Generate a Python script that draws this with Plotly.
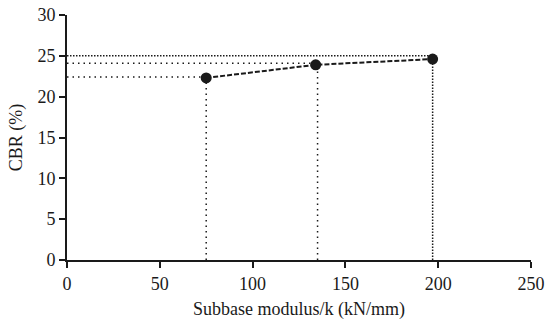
import plotly.graph_objects as go

# Data
modulus = [75, 134, 197]          # Subbase modulus/k (kN/mm)
cbr = [22.3, 23.9, 24.6]          # CBR (%)
guide_levels = [22.4, 24.1, 25.0]  # horizontal read-off lines
guide_x = [75, 135, 197]           # vertical read-off lines
x_ticks = [0, 50, 100, 150, 200, 250]
y_ticks = [0, 5, 10, 15, 20, 25, 30]

ink = "#1a1a1a"
sparse = "1.5px,4px"
dense = "1.5px,1.5px"
fig = go.Figure()

# horizontal dotted guides
for i, (gx, gy) in enumerate(zip(guide_x, guide_levels)):
    fig.add_trace(go.Scatter(x=[0, gx], y=[gy, gy], mode="lines",
                             line=dict(color=ink, width=1.5, dash=dense if i == 2 else sparse),
                             hoverinfo="skip", showlegend=False))
# vertical dotted guides
for i, (gx, my) in enumerate(zip(guide_x, cbr)):
    fig.add_trace(go.Scatter(x=[gx, gx], y=[0, my], mode="lines",
                             line=dict(color=ink, width=1.5, dash=dense if i == 2 else sparse),
                             hoverinfo="skip", showlegend=False))

fig.add_trace(go.Scatter(x=modulus, y=cbr, mode="lines+markers",
                         line=dict(color=ink, width=2, dash="5px,2px"),
                         marker=dict(color=ink, size=11),
                         showlegend=False))

font = dict(family="Liberation Serif, Times New Roman, serif", size=18, color=ink)

fig.update_layout(
    width=551, height=322,
    margin=dict(l=67, r=20, t=15, b=62),
    paper_bgcolor="white", plot_bgcolor="white",
    font=font,
    showlegend=False,
)
fig.update_xaxes(range=[0, 250], tickvals=x_ticks, showgrid=False, zeroline=False,
                 showline=True, linecolor=ink, linewidth=2, automargin=False,
                 ticks="outside", ticklen=6, tickwidth=1.5, tickcolor=ink,
                 title=dict(text="Subbase modulus/k (kN/mm)", font=font, standoff=10))
fig.update_yaxes(range=[0, 30], tickvals=y_ticks, showgrid=False, zeroline=False,
                 showline=True, linecolor=ink, linewidth=2, automargin=False,
                 ticks="outside", ticklen=6, tickwidth=1.5, tickcolor=ink,
                 title=dict(text="CBR (%)", font=font, standoff=10))

fig.write_html("out.html")
